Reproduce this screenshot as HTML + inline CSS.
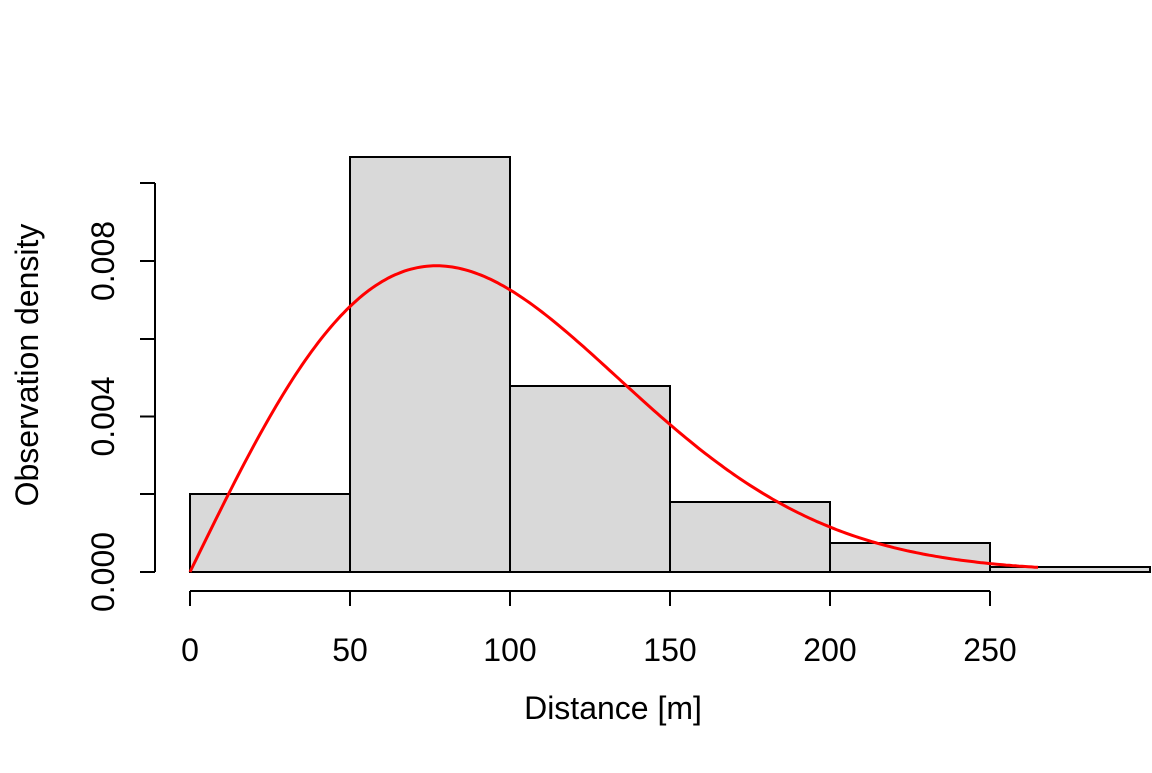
<!DOCTYPE html>
<html><head><meta charset="utf-8"><style>
html,body{margin:0;padding:0;background:#fff;}
svg text{font-family:"Liberation Sans",Arial,sans-serif;font-size:32px;fill:#000;}
</style></head><body>
<svg id="s" width="1152" height="768" xmlns="http://www.w3.org/2000/svg">
<rect width="1152" height="768" fill="#fff"/>
<g fill="#d9d9d9" stroke="#000" stroke-width="2">
<rect x="190" y="494" width="160" height="78"/>
<rect x="350" y="157" width="160" height="415"/>
<rect x="510" y="386" width="160" height="186"/>
<rect x="670" y="502" width="160" height="70"/>
<rect x="830" y="543" width="160" height="29"/>
<rect x="990" y="567" width="160" height="5"/>
</g>
<g stroke="#000" stroke-width="2" fill="none">
<line x1="155" y1="183" x2="155" y2="572"/>
<line x1="140" y1="572" x2="155" y2="572"/>
<line x1="140" y1="494" x2="155" y2="494"/>
<line x1="140" y1="416.5" x2="155" y2="416.5"/>
<line x1="140" y1="339" x2="155" y2="339"/>
<line x1="140" y1="261" x2="155" y2="261"/>
<line x1="140" y1="183" x2="155" y2="183"/>
<line x1="190" y1="591" x2="990" y2="591"/>
<line x1="190" y1="591" x2="190" y2="606"/>
<line x1="350" y1="591" x2="350" y2="606"/>
<line x1="510" y1="591" x2="510" y2="606"/>
<line x1="670" y1="591" x2="670" y2="606"/>
<line x1="830" y1="591" x2="830" y2="606"/>
<line x1="990" y1="591" x2="990" y2="606"/>
</g>
<g text-anchor="middle">
<text x="190" y="661">0</text>
<text x="350" y="661">50</text>
<text x="510" y="661">100</text>
<text x="670" y="661">150</text>
<text x="830" y="661">200</text>
<text x="990" y="661">250</text>
<text x="613" y="719">Distance [m]</text>
<text transform="translate(114,572) rotate(-90)">0.000</text>
<text transform="translate(114,416.5) rotate(-90)">0.004</text>
<text transform="translate(114,261) rotate(-90)">0.008</text>
<text transform="translate(38,365) rotate(-90)">Observation density</text>
</g>
<path id="c" fill="none" stroke="#ff0000" stroke-width="3"/>
</svg>
<script>
var s=77,d="";
for(var r=0;r<=265;r+=1){var f=r/(s*s)*Math.exp(-r*r/(2*s*s));var x=190+r*3.2,y=572-f*38875;d+=(r?"L":"M")+x.toFixed(1)+","+y.toFixed(1);}
document.getElementById("c").setAttribute("d",d);
</script>
</body></html>
